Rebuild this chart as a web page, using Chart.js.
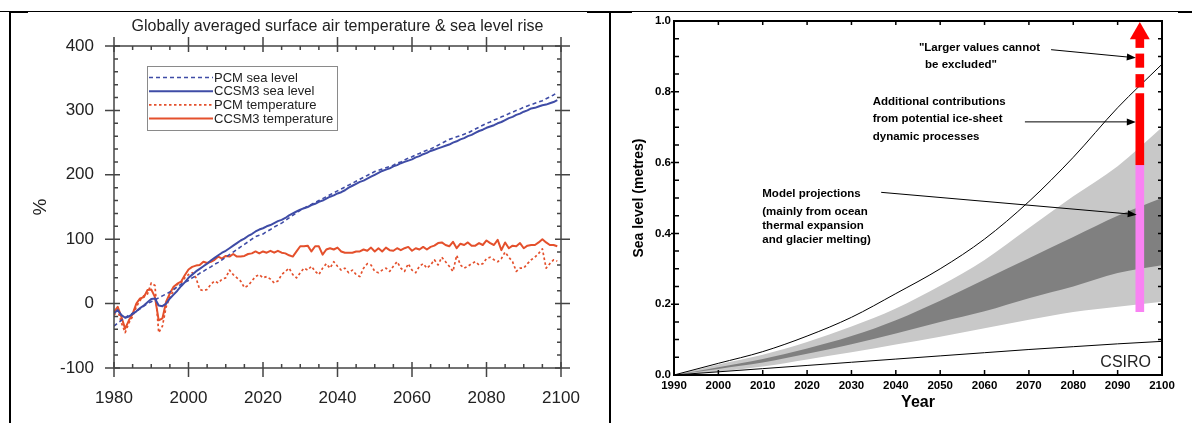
<!DOCTYPE html>
<html>
<head>
<meta charset="utf-8">
<script src="https://cdn.jsdelivr.net/npm/chart.js@4.4.1/dist/chart.umd.min.js"></script>
<style>
  html, body { margin: 0; padding: 0; background: #fff; }
  body { width: 1192px; height: 423px; position: relative; overflow: hidden; }
  canvas { position: absolute; top: 0; }
  #left_chart { left: 0; }
  #right_chart { left: 612px; }
  .rule { position: absolute; background: #000; }
</style>
</head>
<body>
<canvas id="left_chart" width="610" height="423"></canvas>
<canvas id="right_chart" width="580" height="423"></canvas>
<div class="rule" style="left:0;top:11px;width:1192px;height:1px"></div>
<div class="rule" style="left:9px;top:11px;width:19px;height:2px"></div>
<div class="rule" style="left:587px;top:11px;width:45px;height:2px"></div>
<div class="rule" style="left:1178px;top:11px;width:14px;height:2px"></div>
<div class="rule" style="left:9px;top:11px;width:2px;height:412px"></div>
<div class="rule" style="left:609px;top:11px;width:2px;height:412px"></div>
<script>
// ---- left panel: globally averaged temperature & sea level (% of 1980-99) ----
const years = Array.from({ length: 120 }, (_, i) => 1980 + i);

const pcm_sea = [
  -35, -30, -26, -22, -18, -15, -12, -8, -4, 0,
  3, 6, 9, 12, 15, 18, 22, 26, 30, 33,
  36, 40, 43, 47, 50, 54, 57, 61, 64, 68,
  72, 76, 80, 84, 88, 92, 96, 100, 104, 106,
  108, 112, 115, 119, 122, 125, 129, 133, 137, 141,
  145, 148, 151, 154, 157, 160, 163, 166, 169, 172,
  175, 178, 181, 184, 187, 190, 193, 196, 199, 202,
  205, 207, 209, 211, 213, 215, 218, 220, 223, 226,
  228, 231, 233, 236, 238, 240, 243, 246, 249, 252,
  255, 257, 259, 261, 263, 265, 268, 271, 274, 277,
  280, 282, 285, 287, 290, 292, 295, 297, 300, 302,
  305, 307, 309, 311, 313, 315, 318, 321, 324, 328
];
const ccsm_sea = [
  -15, -10, -18, -22, -20, -16, -12, -7, -3, 2,
  7, 8, -3, -4, 0, 8, 14, 20, 27, 33,
  40, 45, 50, 54, 58, 62, 67, 71, 75, 79,
  82, 86, 90, 94, 98, 101, 105, 108, 112, 115,
  117, 120, 122, 125, 128, 130, 133, 137, 140, 143,
  146, 148, 150, 153, 155, 158, 160, 163, 166, 168,
  171, 173, 176, 180, 183, 186, 189, 191, 194, 197,
  200, 203, 206, 208, 210, 213, 215, 218, 220, 222,
  224, 227, 229, 232, 234, 237, 239, 241, 243, 245,
  247, 250, 252, 255, 257, 260, 262, 265, 268, 270,
  273, 275, 277, 280, 282, 285, 288, 290, 293, 295,
  298, 300, 303, 304, 306, 308, 309, 311, 313, 316
];
const pcm_temp = [
  -18, -10, -30, -45, -30, -20, -5, 5, 12, 15,
  32, 28, -45, -35, -5, 10, 20, 30, 32, 40,
  45, 48, 40, 22, 20, 22, 30, 35, 32, 38,
  40, 52, 45, 40, 35, 25, 28, 35, 42, 45,
  40, 42, 38, 32, 35, 45, 50, 55, 45, 40,
  48, 55, 52, 58, 50, 45, 55, 62, 55, 65,
  58, 52, 55, 48, 52, 45, 42, 55, 62, 60,
  50, 48, 52, 55, 50, 58, 65, 55, 50, 62,
  52, 48, 58, 62, 55, 60, 68, 60, 72, 65,
  58, 50, 75, 60, 55, 58, 62, 65, 60, 62,
  70, 72, 68, 65, 70, 80, 72, 65, 50, 55,
  55, 62, 68, 72, 78, 85, 55, 62, 68, 66
];
const ccsm_temp = [
  -13, -5, -21, -39, -26, -16, 0, 8, 10, 21,
  22, 10, -26, -23, 3, 16, 26, 31, 34, 44,
  53, 57, 59, 60, 65, 63, 65, 68, 73, 70,
  74, 73, 77, 73, 73, 74, 77, 78, 81, 78,
  81, 79, 82, 79, 82, 79, 78, 75, 73, 81,
  89, 89, 90, 81, 89, 89, 76, 84, 86, 84,
  87, 81, 79, 79, 79, 81, 81, 84, 82, 87,
  81, 86, 81, 87, 83, 82, 86, 83, 86, 88,
  82, 86, 84, 88, 84, 88, 90, 94, 95, 91,
  89, 96, 86, 93, 91, 95, 90, 90, 94, 91,
  98, 94, 91, 99, 83, 95, 86, 90, 89, 94,
  86, 90, 91, 91, 95, 100, 95, 91, 91, 89
];
const left_labels = ['PCM sea level', 'CCSM3 sea level', 'PCM temperature', 'CCSM3 temperature'];
const left_title = 'Globally averaged surface air temperature & sea level rise';

// ---- right panel: sea level projections (metres) ----
const decade_years = [1990, 2000, 2010, 2020, 2030, 2040, 2050, 2060, 2070, 2080, 2090, 2100];
const upper_curve = [0, 0.033, 0.066, 0.11, 0.163, 0.23, 0.3, 0.384, 0.49, 0.615, 0.755, 0.878];
const lower_line = [0, 0.009, 0.018, 0.027, 0.036, 0.045, 0.054, 0.063, 0.072, 0.08, 0.088, 0.095];
const light_high = [0, 0.03, 0.057, 0.093, 0.137, 0.188, 0.252, 0.325, 0.415, 0.505, 0.59, 0.70];
const dark_high = [0, 0.022, 0.045, 0.075, 0.11, 0.155, 0.21, 0.27, 0.33, 0.39, 0.45, 0.50];
const dark_low = [0, 0.017, 0.035, 0.06, 0.087, 0.117, 0.15, 0.18, 0.217, 0.25, 0.288, 0.31];
const light_low = [0, 0.01, 0.024, 0.044, 0.064, 0.086, 0.108, 0.132, 0.156, 0.178, 0.193, 0.207];
// vertical range bar drawn at 2095: [from, to] in metres
const bar_year = 2095;
const bar_ranges = [[0.179, 0.594], [0.594, 0.795], [0.813, 0.849], [0.869, 0.907], [0.925, 0.96]];
const bar_colors = ['#f982f3', '#ff0000', '#ff0000', '#ff0000', '#ff0000'];
const arrow_tip = 0.965;

const notes = [
  { text: '"Larger values cannot', x: 2045.2, y: 0.923 },
  { text: 'be excluded"', x: 2046.6, y: 0.875 },
  { text: 'Additional contributions', x: 2034.8, y: 0.773 },
  { text: 'from potential ice-sheet', x: 2034.8, y: 0.724 },
  { text: 'dynamic processes', x: 2034.8, y: 0.672 },
  { text: 'Model projections', x: 2009.9, y: 0.512 },
  { text: '(mainly from ocean', x: 2009.9, y: 0.46 },
  { text: 'thermal expansion', x: 2009.9, y: 0.42 },
  { text: 'and glacier melting)', x: 2009.9, y: 0.381 }
];
const arrows = [
  { from: [2075.0, 0.919], to: [2094.1, 0.896] },
  { from: [2069.1, 0.715], to: [2094.1, 0.715] },
  { from: [2036.7, 0.516], to: [2094.3, 0.453] }
];

const SANS = "'Liberation Sans', Arial, sans-serif";
Chart.defaults.font.family = SANS;

function pairs(xs, ys) {
  return xs.map((x, i) => ({ x: x, y: ys[i] }));
}

const BLUE = '#3f4ca6';
const RED = '#e4502c';

const left_frame = {
  id: 'left_frame',
  afterDraw(chart) {
    const { ctx, chartArea: a, scales: { x, y } } = chart;
    ctx.save();
    ctx.strokeStyle = '#444';
    ctx.lineWidth = 1.5;
    ctx.strokeRect(a.left, a.top, a.right - a.left, a.bottom - a.top);
    ctx.beginPath();
    for (let v = 1980; v <= 2100; v += 5) {
      const px = x.getPixelForValue(v);
      const major = v % 20 === 0;
      const out = major ? 9 : 0, inn = major ? 6 : 4;
      ctx.moveTo(px, a.bottom + out); ctx.lineTo(px, a.bottom - inn);
      ctx.moveTo(px, a.top - out); ctx.lineTo(px, a.top + inn);
    }
    for (let v = -100; v <= 400; v += 20) {
      const py = y.getPixelForValue(v);
      const major = v % 100 === 0;
      const out = major ? 9 : 0, inn = major ? 6 : 4;
      ctx.moveTo(a.left - out, py); ctx.lineTo(a.left + inn, py);
      ctx.moveTo(a.right + out, py); ctx.lineTo(a.right - inn, py);
    }
    ctx.stroke();

    // title
    ctx.fillStyle = '#222';
    ctx.font = '16px ' + SANS;
    ctx.textAlign = 'center';
    ctx.textBaseline = 'middle';
    ctx.fillText(left_title, (a.left + a.right) / 2, 27);

    // legend
    const lx = a.left + 33, ly = a.top + 20;
    ctx.strokeStyle = '#8a8a8a';
    ctx.lineWidth = 1;
    ctx.strokeRect(lx + 0.5, ly + 0.5, 190, 64);
    ctx.font = '13px ' + SANS;
    ctx.textAlign = 'left';
    chart.data.datasets.forEach((ds, i) => {
      const ry = ly + 11.5 + i * 13.7;
      ctx.beginPath();
      ctx.strokeStyle = ds.borderColor;
      ctx.lineWidth = ds.borderWidth;
      ctx.setLineDash(ds.borderDash || []);
      ctx.moveTo(lx + 2, ry);
      ctx.lineTo(lx + 66, ry);
      ctx.stroke();
      ctx.setLineDash([]);
      ctx.fillStyle = '#222';
      ctx.fillText(ds.label, lx + 67, ry + 0.5);
    });
    ctx.restore();
  }
};

new Chart(document.getElementById('left_chart'), {
  type: 'line',
  data: {
    datasets: [
      { label: left_labels[0], data: pairs(years, pcm_sea), borderColor: BLUE, borderWidth: 1.6, borderDash: [4, 3] },
      { label: left_labels[1], data: pairs(years, ccsm_sea), borderColor: BLUE, borderWidth: 2 },
      { label: left_labels[2], data: pairs(years, pcm_temp), borderColor: RED, borderWidth: 1.7, borderDash: [2.5, 2.5] },
      { label: left_labels[3], data: pairs(years, ccsm_temp), borderColor: RED, borderWidth: 2 }
    ]
  },
  options: {
    responsive: false,
    animation: false,
    layout: { padding: { left: 0, top: 46, right: 49, bottom: 0 } },
    elements: { point: { radius: 0 }, line: { tension: 0, borderJoinStyle: 'round' } },
    plugins: { legend: { display: false }, tooltip: { enabled: false } },
    scales: {
      x: {
        type: 'linear', min: 1980, max: 2100, offset: false,
        grid: { display: false, drawTicks: false }, border: { display: false },
        ticks: { stepSize: 20, color: '#222', font: { size: 17 }, padding: 20, maxRotation: 0, callback: v => String(v) },
        afterFit: s => { s.height = 55; }
      },
      y: {
        min: -100, max: 400,
        grid: { display: false, drawTicks: false }, border: { display: false },
        ticks: { stepSize: 100, color: '#222', font: { size: 17 }, padding: 20 },
        title: { display: true, text: '%', color: '#222', font: { size: 19 }, padding: { top: 29, bottom: 0 } },
        afterFit: s => { s.width = 114; }
      }
    }
  },
  plugins: [left_frame]
});

// ---- right chart ----
const right_frame = {
  id: 'right_frame',
  afterDraw(chart) {
    const { ctx, chartArea: a, scales: { x, y } } = chart;
    ctx.save();
    ctx.strokeStyle = '#000';
    ctx.lineWidth = 1.5;
    ctx.beginPath();
    for (let v = 2000; v < 2100; v += 10) {
      const px = x.getPixelForValue(v);
      ctx.moveTo(px, a.bottom); ctx.lineTo(px, a.bottom - 5);
      ctx.moveTo(px, a.top); ctx.lineTo(px, a.top + 4);
    }
    for (let k = 1; k < 20; k++) {
      const py = y.getPixelForValue(k * 0.05);
      ctx.moveTo(a.left, py); ctx.lineTo(a.left + 5, py);
      ctx.moveTo(a.right, py); ctx.lineTo(a.right - 4, py);
      if (k % 4 === 0) { ctx.moveTo(a.left - 3, py); ctx.lineTo(a.left, py); }
    }
    ctx.stroke();
    ctx.lineWidth = 2;
    ctx.strokeRect(a.left, a.top, a.right - a.left, a.bottom - a.top);

    // notes
    ctx.fillStyle = '#000';
    ctx.font = 'bold 11.5px ' + SANS;
    ctx.textAlign = 'left';
    ctx.textBaseline = 'middle';
    notes.forEach(n => ctx.fillText(n.text, x.getPixelForValue(n.x), y.getPixelForValue(n.y)));

    // arrows
    ctx.lineWidth = 1;
    arrows.forEach(ar => {
      const x0 = x.getPixelForValue(ar.from[0]), y0 = y.getPixelForValue(ar.from[1]);
      const x1 = x.getPixelForValue(ar.to[0]), y1 = y.getPixelForValue(ar.to[1]);
      const ang = Math.atan2(y1 - y0, x1 - x0);
      ctx.beginPath();
      ctx.moveTo(x0, y0);
      ctx.lineTo(x1 - 6 * Math.cos(ang), y1 - 6 * Math.sin(ang));
      ctx.stroke();
      ctx.beginPath();
      ctx.moveTo(x1, y1);
      ctx.lineTo(x1 - 9 * Math.cos(ang) + 3.5 * Math.sin(ang), y1 - 9 * Math.sin(ang) - 3.5 * Math.cos(ang));
      ctx.lineTo(x1 - 9 * Math.cos(ang) - 3.5 * Math.sin(ang), y1 - 9 * Math.sin(ang) + 3.5 * Math.cos(ang));
      ctx.closePath();
      ctx.fill();
    });

    ctx.fillStyle = '#222';
    ctx.font = '16px ' + SANS;
    ctx.textAlign = 'right';
    ctx.textBaseline = 'alphabetic';
    ctx.fillText('CSIRO', a.right - 11, a.bottom - 8);
    ctx.restore();
  }
};

const band_line = { borderWidth: 0, pointRadius: 0, cubicInterpolationMode: 'monotone' };

new Chart(document.getElementById('right_chart'), {
  type: 'line',
  data: {
    datasets: [
      { data: pairs(decade_years, upper_curve), borderColor: '#000', borderWidth: 1, fill: false, order: 1, cubicInterpolationMode: 'monotone' },
      { data: pairs(decade_years, lower_line), borderColor: '#000', borderWidth: 1, fill: false, order: 1, cubicInterpolationMode: 'monotone' },
      Object.assign({ data: pairs(decade_years, dark_low), fill: false, order: 2 }, band_line),
      Object.assign({ data: pairs(decade_years, dark_high), fill: 2, backgroundColor: '#808080', order: 2 }, band_line),
      Object.assign({ data: pairs(decade_years, light_low), fill: false, order: 3 }, band_line),
      Object.assign({ data: pairs(decade_years, light_high), fill: 4, backgroundColor: '#c8c8c8', order: 3 }, band_line),
      {
        type: 'bar', order: 0, grouped: false, barThickness: 8, borderWidth: 0,
        data: bar_ranges.map(r => ({ x: bar_year, y: r })),
        backgroundColor: bar_colors
      },
      {
        order: 0, showLine: false, data: [{ x: bar_year, y: arrow_tip }],
        pointStyle: 'triangle', pointRadius: 11.5, pointBackgroundColor: '#ff0000', pointBorderWidth: 0
      }
    ]
  },
  options: {
    responsive: false,
    animation: false,
    layout: { padding: { left: 0, top: 21, right: 30, bottom: 0 } },
    elements: { point: { radius: 0 } },
    plugins: { legend: { display: false }, tooltip: { enabled: false } },
    scales: {
      x: {
        type: 'linear', min: 1990, max: 2100, offset: false,
        grid: { display: false, drawTicks: false }, border: { display: false },
        ticks: { stepSize: 10, color: '#000', font: { size: 11.5, weight: 'bold' }, padding: 4, maxRotation: 0, autoSkip: false, callback: v => String(v) },
        title: { display: true, text: 'Year', color: '#000', font: { size: 16, weight: 'bold' }, padding: { top: 0, bottom: 11 } },
        afterFit: s => { s.height = 48; }
      },
      y: {
        min: 0, max: 1,
        grid: { display: false, drawTicks: false }, border: { display: false },
        ticks: { stepSize: 0.2, color: '#000', font: { size: 11.5, weight: 'bold' }, padding: 3, callback: v => v.toFixed(1) },
        title: { display: true, text: 'Sea level (metres)', color: '#000', font: { size: 14, weight: 'bold' }, padding: { top: 19, bottom: 0 } },
        afterFit: s => { s.width = 62; }
      }
    }
  },
  plugins: [right_frame]
});
</script>
</body>
</html>
